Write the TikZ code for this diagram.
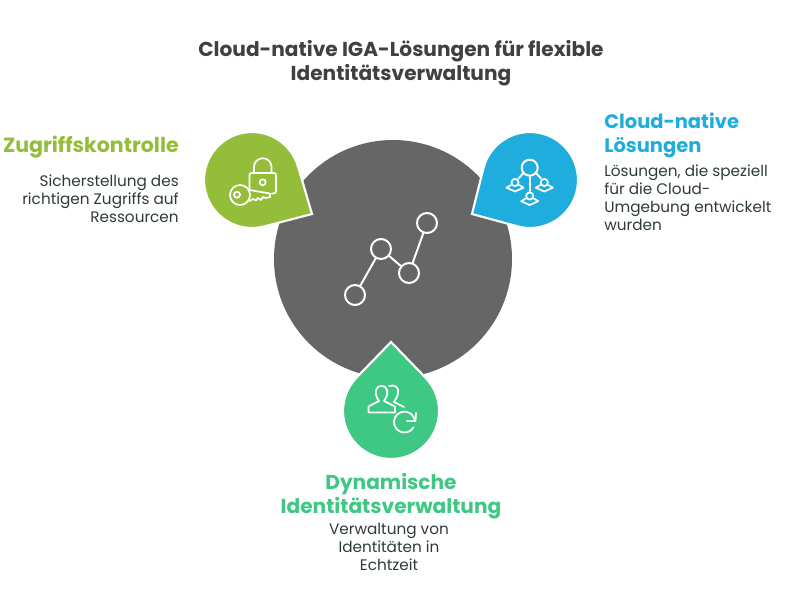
\documentclass[tikz,border=0pt]{standalone}
\usepackage{fontspec}
\setmainfont{Poppins}
\definecolor{cgray}{HTML}{666666}
\definecolor{cgreen}{HTML}{94BD39}
\definecolor{cblue}{HTML}{1EADDC}
\definecolor{cmint}{HTML}{3EC883}
\definecolor{ctitle}{HTML}{404040}
\definecolor{cbody}{HTML}{2F3B3B}
\tikzset{
  ico/.style={draw=white,line width=1.5pt,line cap=round,line join=round},
  ithin/.style={draw=white,line width=1.3pt,line cap=round,line join=round},
  dot/.style={circle,draw=white,line width=1.5pt,minimum size=15pt,inner sep=0pt},
  titletxt/.style={font=\fontsize{15.1}{18.2}\selectfont\bfseries,text=ctitle,align=center,inner sep=0pt},
  headtxt/.style={font=\fontsize{#1}{18.1}\selectfont\bfseries,inner sep=0pt},
  bodytxt/.style={font=\fontsize{11.45}{13.5}\selectfont,text=cbody,inner sep=0pt},
}
% centre x, centre y, tip x, tip y, colour
\newcommand{\dropshape}[5]{%
  \pgfmathsetmacro{\dd}{veclen(#3-#1,#4-#2)}%
  \pgfmathsetmacro{\tth}{atan2(#4-#2,#3-#1)}%
  \pgfmathsetmacro{\aal}{acos(48/\dd)}%
  \path[fill=#5,draw=white,line width=1.6pt,line join=miter]
    (#3,#4) -- ({#1+48*cos(\tth+\aal)},{#2+48*sin(\tth+\aal)})
    arc[start angle=\tth+\aal,end angle=\tth-\aal+360,radius=48] -- cycle;}
\begin{document}
\begin{tikzpicture}[x=0.75pt,y=-0.75pt]
\useasboundingbox (0,0) rectangle (807,615);
\fill[white] (0,0) rectangle (807,615);
\node[titletxt] (title) at (401,63.5) {Cloud-native IGA-Lösungen für flexible\\Identitätsverwaltung};
% main circle
\fill[cgray] (393,259) circle[radius=119];
\node[dot] (n1) at (355,295) {};
\node[dot] (n2) at (381,249) {};
\node[dot] (n3) at (409,273) {};
\node[dot] (n4) at (427,223) {};
\draw[ico] (n1) -- (n2);
\draw[ico] (n2) -- (n3);
\draw[ico] (n3) -- (n4);
% drops
\dropshape{252}{180}{312}{214}{cgreen}
\dropshape{530}{180}{472}{214}{cblue}
\dropshape{391}{411}{391}{342}{cmint}
% lock + key
\draw[ithin] (249.5,190) -- (249.5,175) arc[start angle=180,end angle=270,radius=2] -- (274,173) arc[start angle=270,end angle=360,radius=2] -- (276,191) arc[start angle=0,end angle=90,radius=2.5] -- (272,193.5);
\draw[ithin] (254,172.5) -- (254,167) arc[start angle=180,end angle=360,radius=8.8] -- (271.6,172.5);
\draw[ithin] (262.7,182.3) circle[radius=3];
\draw[ithin] (240,195) circle[radius=10];
\draw[ithin] (237,194.7) circle[radius=3];
\draw[ithin] (249.5,190) -- (270,193.5) -- (270,197) -- (266,198) -- (263,197) -- (261,200) -- (258,198) -- (256,200.5) -- (253,199) -- (249.5,201);
% hierarchy
\draw[ico] (529.7,167.7) circle[radius=8];
\draw[ico] (529.7,175.7) -- (529.7,191);
\draw[ico] (523.5,173) -- (518.5,178.5);
\draw[ico] (536,173) -- (541,178.5);
\foreach \px/\py in {515/182.5,544.3/182.5,529.7/196}{
  \draw[ithin] (\px,\py) circle[radius=3.6];
  \draw[ithin] (\px-4,\py+2.5) -- (\px-8.5,\py+5.2) -- (\px,\py+9) -- (\px+8.5,\py+5.2) -- (\px+4,\py+2.5);
}
% people + refresh
\draw[ithin] (368.5,412.5) -- (368.5,406.5) -- (379,401) .. controls (376,397) and (375,393) .. (376,390) .. controls (377,384.5) and (386,384.5) .. (387,390) .. controls (388,393) and (387,397) .. (384,401) -- (395,406.5) -- (395,412.5) -- cycle;
\draw[ithin] (389,386) .. controls (395,384) and (399,388) .. (398,392) .. controls (398,396) and (396,399) .. (394,402) -- (404,407);
\draw[ithin] (414.5,419) arc[start angle=-17,end angle=-330,radius=10.5];
\draw[ithin] (416,413) -- (415.5,421) -- (407,421);
% texts
\node[headtxt=15.4,text=cgreen,anchor=east] (h1) at (179,147) {Zugriffskontrolle};
\node[bodytxt,align=right,anchor=north east] (b1) at (179,175) {Sicherstellung des\\richtigen Zugriffs auf\\Ressourcen};
\node[headtxt=14.6,text=cblue,align=left,anchor=north west] (h2) at (604,113) {Cloud-native\\Lösungen};
\node[bodytxt,align=left,anchor=north west] (b2) at (604,165) {Lösungen, die speziell\\für die Cloud-\\Umgebung entwickelt\\wurden};
\node[headtxt=15.1,text=cmint,align=center,anchor=north] (h3) at (391,473) {Dynamische\\Identitätsverwaltung};
\node[bodytxt,align=center,anchor=north] (b3) at (389,523) {Verwaltung von\\Identitäten in\\Echtzeit};
\end{tikzpicture}
\end{document}
